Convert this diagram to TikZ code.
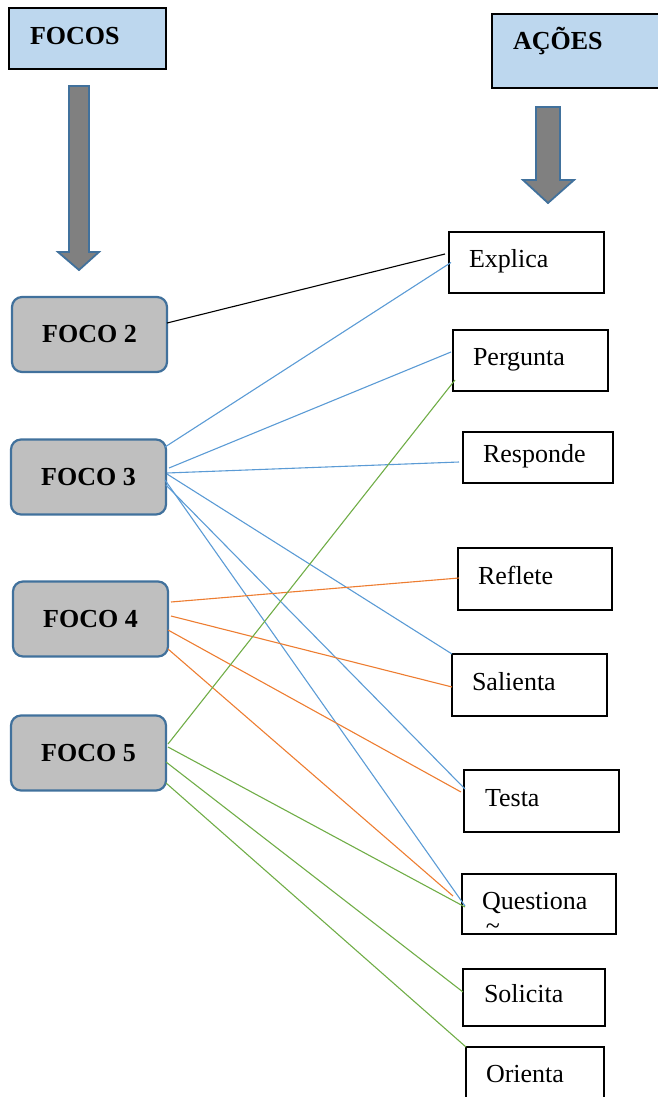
\documentclass[tikz,border=0pt]{standalone}
\usepackage{fontspec}
\setmainfont{Liberation Serif}
\usetikzlibrary{calc}
\definecolor{headblue}{HTML}{BDD7EE}
\definecolor{focoblue}{HTML}{41719C}
\definecolor{focogray}{HTML}{BFBFBF}
\definecolor{arrowgray}{HTML}{808080}
\definecolor{lineblue}{HTML}{5B9BD5}
\definecolor{lineorange}{HTML}{ED7D31}
\definecolor{linegreen}{HTML}{70AD47}
\begin{document}
\begin{tikzpicture}[x=1pt,y=-1pt,
  every node/.style={font=\fontsize{26}{30}\selectfont, text height=17pt, text depth=7pt, outer sep=0pt},
  headbox/.style={draw=black, line width=1.5pt, fill=headblue, font=\bfseries\fontsize{26}{30}\selectfont},
  bigarrow/.style={draw=focoblue, line width=1.8pt, fill=arrowgray},
  foco/.style={draw=focoblue, line width=2.2pt, fill=focogray, rounded corners=10pt, minimum width=155pt, minimum height=75pt, text height=20pt, text depth=4pt, font=\bfseries\fontsize{26}{30}\selectfont},
  acao/.style={draw=black, line width=2pt, anchor=west, minimum height=61pt, inner xsep=20pt, align=left, text width=#1},
  conn/.style={line width=1.1pt}]
\useasboundingbox (0,0) rectangle (657,1097);
% cabecalhos
\node[headbox, minimum height=61pt, inner xsep=21pt, text width=115pt, text height=18pt, text depth=5pt, align=left] (focos) at (87.5,38.5) {FOCOS};
\node[headbox, minimum width=170pt, minimum height=74pt] (acoes) at (577,51) {};
\node[anchor=base west, inner sep=0pt, font=\bfseries\fontsize{26}{30}\selectfont] (acoestxt) at (513,50) {AÇÕES};
\draw[bigarrow] (69,86) -- (89,86) -- (89,252) -- (99,252) -- (79,270) -- (58,252) -- (69,252) -- cycle;
\draw[bigarrow] (536,107) -- (560,107) -- (560,180) -- (574,180) -- (548,203) -- (523,180) -- (536,180) -- cycle;
% focos
\node[foco] (foco2) at (89.5,334.5) {FOCO 2};
\node[foco] (foco3) at (88.5,477) {FOCO 3};
\node[foco] (foco4) at (90.5,619) {FOCO 4};
\node[foco] (foco5) at (88.5,753) {FOCO 5};
% acoes
\node[acao=115pt] (explica) at (449,262.5) {Explica};
\node[acao=115pt] (pergunta) at (453,360.5) {Pergunta};
\node[acao=110pt, minimum height=51pt] (responde) at (463,457.5) {Responde};
\node[acao=114pt, minimum height=62pt] (reflete) at (458,579) {Reflete};
\node[acao=115pt, minimum height=62pt] (salienta) at (452,685) {Salienta};
\node[acao=113pt, minimum height=62pt, inner xsep=21pt] (testa) at (464,801) {Testa};
\node[acao=114pt, minimum height=60pt] (questiona) at (462,904) {Questiona};
\begin{scope}
\clip (questiona.north west) rectangle (questiona.south east);
\node[anchor=base, inner sep=0pt, font=\fontsize{26}{30}\selectfont] (tilde) at (493,934) {\textasciitilde};
\end{scope}
\node[acao=100pt, minimum height=57pt, inner xsep=21pt] (solicita) at (463,997.5) {Solicita};
\node[acao=98pt, minimum height=61pt] (orienta) at (466,1077.5) {Orienta};
% ligacoes
\draw[conn, black] ($(foco2.east)+(0,-11.5)$) -- ($(explica.west)+(-4,-8.5)$);
\draw[conn, lineblue] ($(foco3.east)+(-1,-30)$) -- ($(explica.west)+(2,0)$);
\draw[conn, lineblue] ($(foco3.east)+(3,-9)$) -- ($(pergunta.west)+(-2,-8.5)$);
\draw[conn, lineblue] ($(foco3.east)+(1,-4)$) -- ($(responde.west)+(-4,4.5)$);
\draw[conn, lineblue] ($(foco3.east)+(1,-3)$) -- (salienta.north west);
\draw[conn, lineblue] ($(foco3.east)+(0,8)$) -- ($(testa.west)+(1,-12)$);
\draw[conn, lineblue] ($(foco3.east)+(-1,3)$) -- ($(questiona.west)+(3,2)$);
\draw[conn, lineorange] ($(foco4.east)+(3,-17)$) -- ($(reflete.west)+(1,-1)$);
\draw[conn, lineorange] ($(foco4.east)+(3,-3)$) -- ($(salienta.west)+(0,2)$);
\draw[conn, lineorange] ($(foco4.east)+(0,11)$) -- ($(testa.west)+(-3,-9)$);
\draw[conn, lineorange] ($(foco4.east)+(0,30)$) -- ($(questiona.west)+(-9,-8)$);
\draw[conn, linegreen] ($(foco5.east)+(2,-9)$) -- ($(pergunta.west)+(2,19.5)$);
\draw[conn, linegreen] ($(foco5.east)+(2,-6)$) -- ($(questiona.west)+(3,3)$);
\draw[conn, linegreen] ($(foco5.east)+(0,9)$) -- ($(solicita.west)+(0,-5.5)$);
\draw[conn, linegreen] ($(foco5.east)+(0,30)$) -- (orienta.north west);
\end{tikzpicture}
\end{document}
